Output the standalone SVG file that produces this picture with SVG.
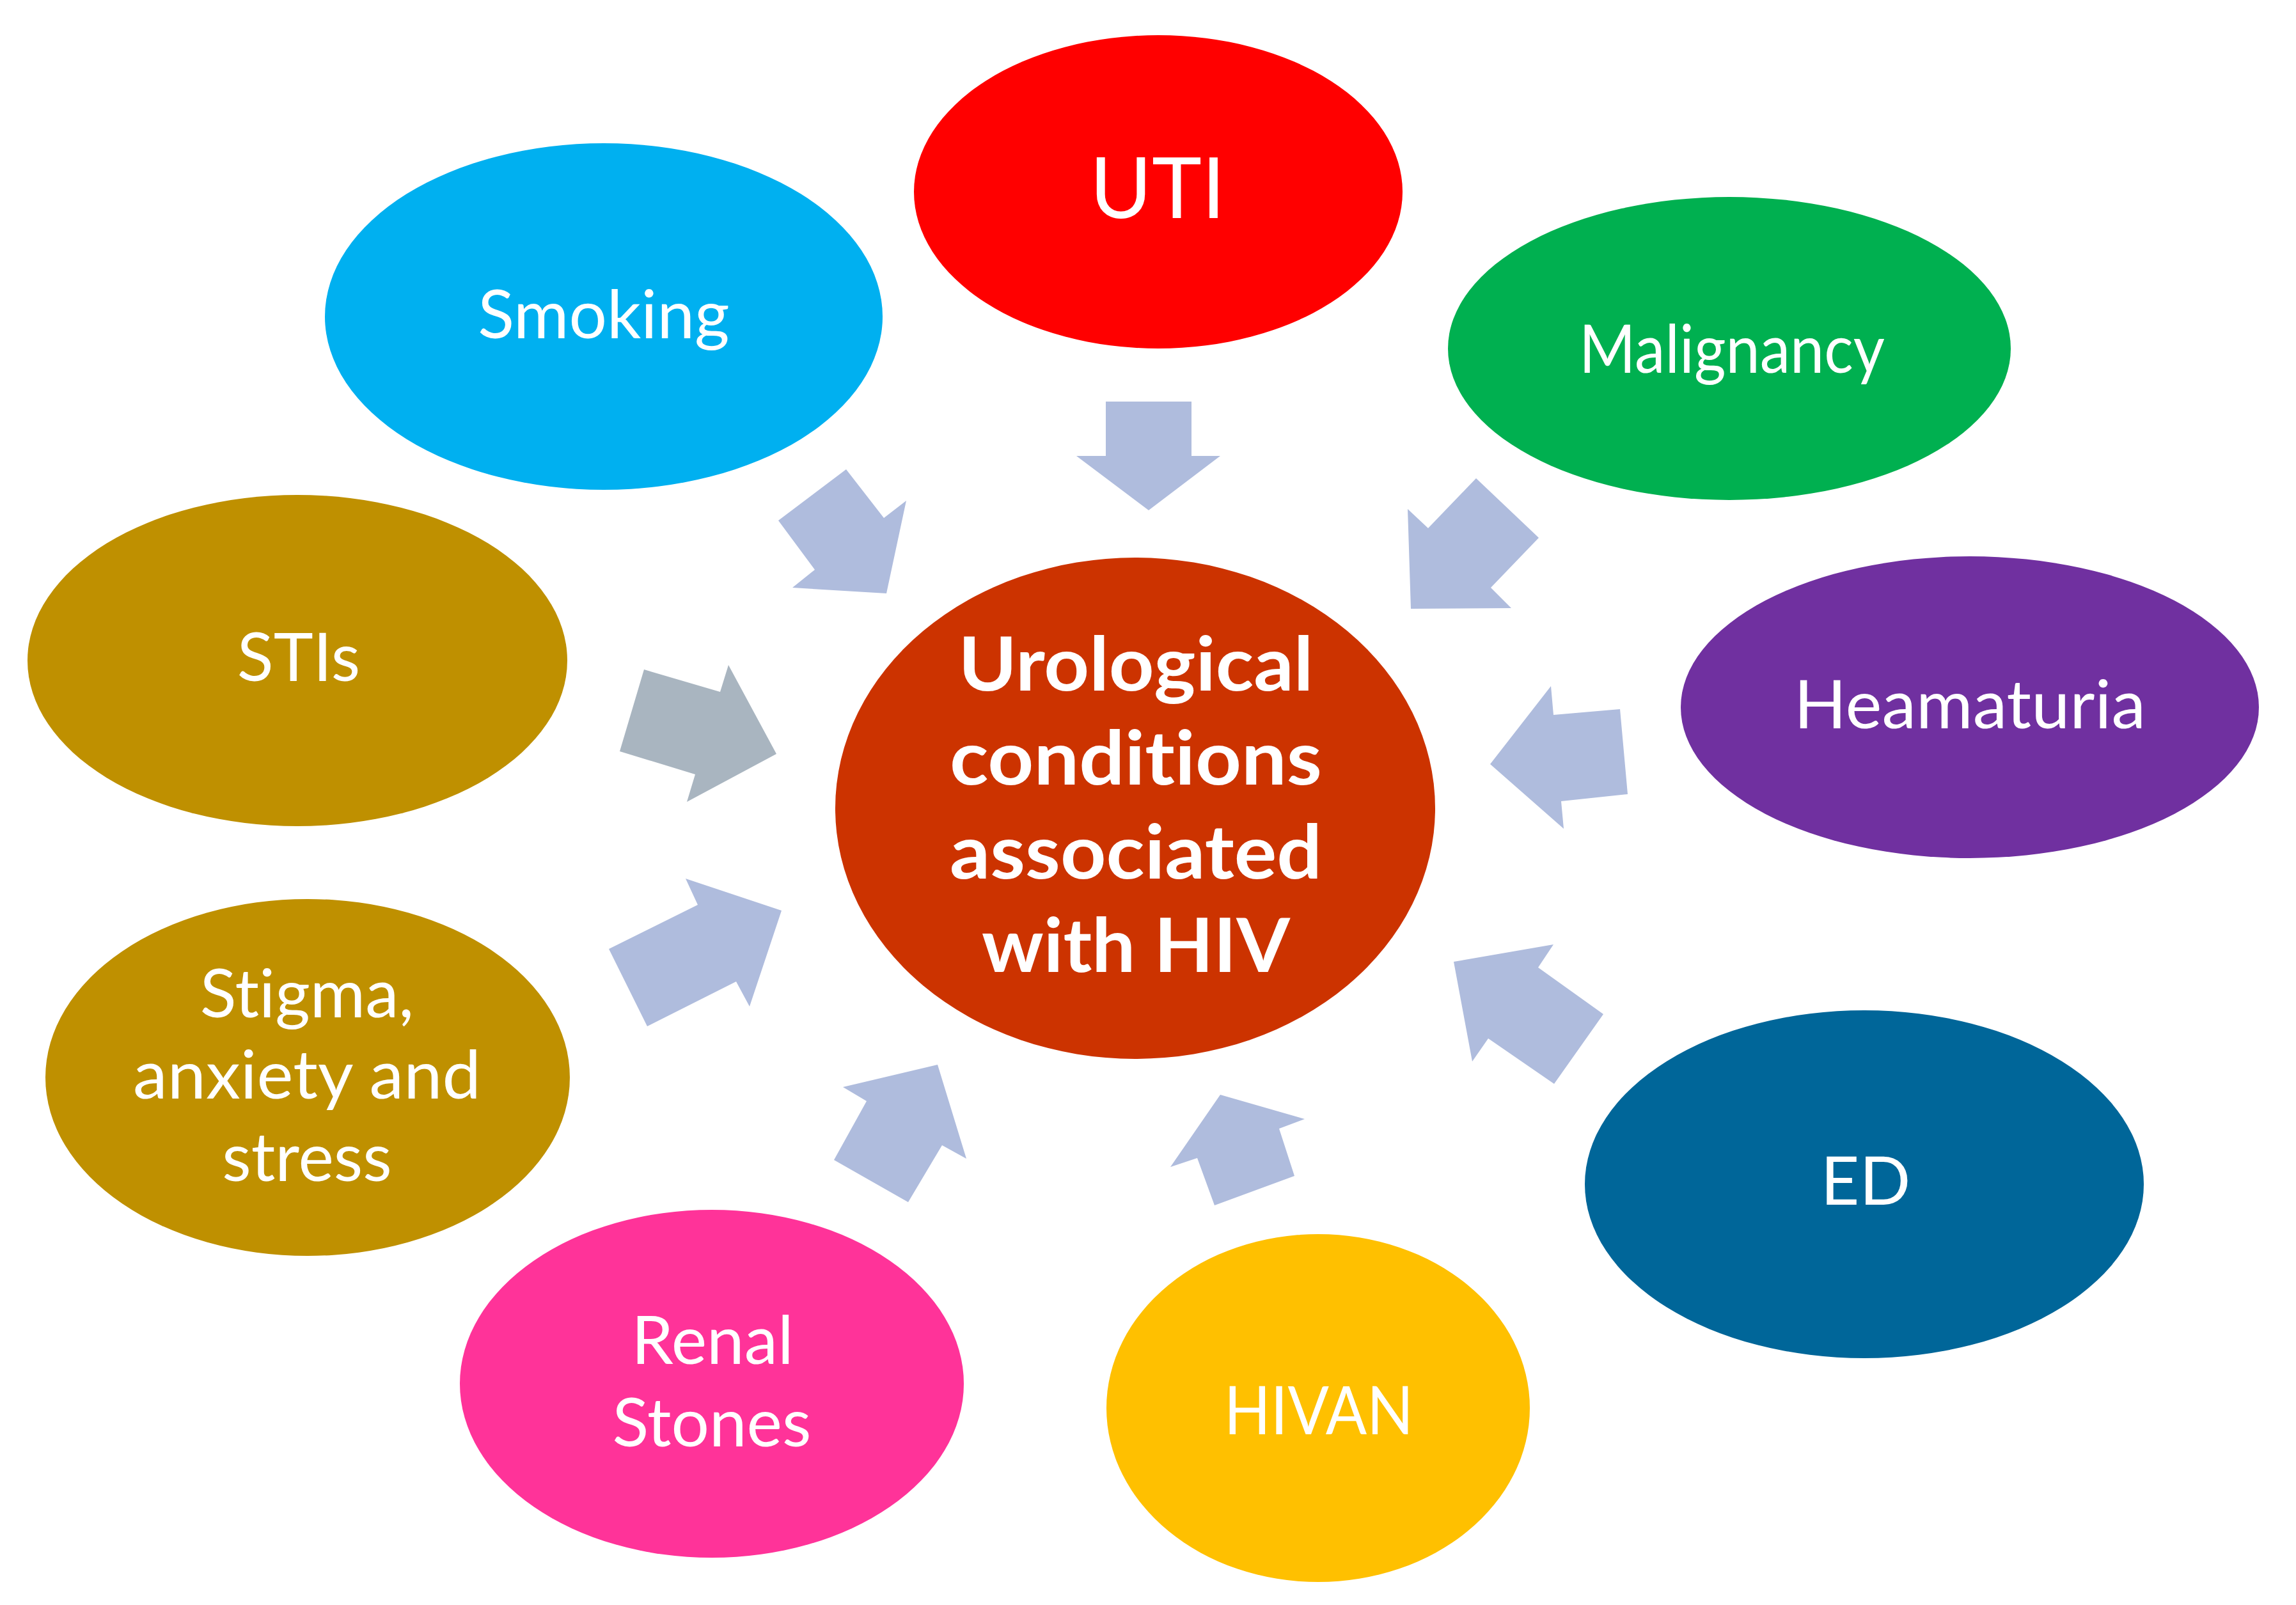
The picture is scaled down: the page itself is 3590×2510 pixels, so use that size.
<svg xmlns="http://www.w3.org/2000/svg" width="3590" height="2510" viewBox="0 0 3590 2510">
<style>
text{font-variant-ligatures:none;font-feature-settings:"liga" 0,"clig" 0}
.lbl{font-family:Lato,"Open Sans","Liberation Sans",sans-serif;font-size:105px;fill:#fff;text-anchor:middle}
.ctr{font-family:Lato,"Open Sans","Liberation Sans",sans-serif;font-size:117px;font-weight:bold;fill:#fff;text-anchor:middle}
.arr{fill:#AFBCDD}
.arr2{fill:#A9B5C0}
</style>
<rect width="3590" height="2510" fill="#fff"/>
<g id="connectors">
<polygon class="arr" points="1729,628 1863,628 1863,713 1908,713 1796,798 1683,713 1729,713"/>
<polygon class="arr" points="1323,734 1382,810 1417,783 1386,928 1239,919 1274,891 1217,814"/>
<polygon class="arr" points="2308,748 2406,841 2331,919 2363,951 2206,952 2201,796 2233,826"/>
<polygon class="arr2" points="1007,1047 1126,1082 1139,1040 1214,1179 1074,1254 1087,1211 969,1175"/>
<polygon class="arr" points="2330,1195 2425,1073 2429,1118 2533,1109 2545,1242 2441,1253 2445,1296"/>
<polygon class="arr" points="1222,1424 1072,1374 1091,1415 952,1484 1012,1605 1151,1535 1172,1574"/>
<polygon class="arr" points="2273,1504 2429,1477 2405,1513 2507,1586 2430,1695 2327,1624 2302,1660"/>
<polygon class="arr" points="1466,1665 1511,1812 1473,1791 1420,1880 1304,1814 1355,1722 1318,1700"/>
<polygon class="arr" points="1908,1712 2040,1750 2000,1765 2024,1839 1899,1885 1872,1811 1830,1825"/>
</g>
<g id="uti"><ellipse cx="1811" cy="300" rx="382" ry="245" fill="#FF0000"/><text class="lbl" x="1810" y="341" style="font-size:132px">UTI</text></g>
<g id="smoking"><ellipse cx="944" cy="495" rx="436" ry="271" fill="#00B0F0"/><text class="lbl" x="944" y="529">Smoking</text></g>
<g id="malignancy"><ellipse cx="2704" cy="545" rx="440" ry="237" fill="#00B050"/><text class="lbl" x="2708" y="583" textLength="478" lengthAdjust="spacingAndGlyphs">Malignancy</text></g>
<g id="stis"><ellipse cx="465" cy="1033" rx="422" ry="259" fill="#BF9000"/><text class="lbl" x="467" y="1065">STIs</text></g>
<g id="heamaturia"><ellipse cx="3080" cy="1106" rx="452" ry="236" fill="#7030A0"/><text class="lbl" x="3080" y="1139" textLength="550" lengthAdjust="spacingAndGlyphs">Heamaturia</text></g>
<g id="stigma"><ellipse cx="481" cy="1685" rx="410" ry="279" fill="#BF9000"/><text class="lbl" x="480" y="1591">Stigma,</text><text class="lbl" x="480" y="1718" textLength="544" lengthAdjust="spacingAndGlyphs">anxiety and</text><text class="lbl" x="480" y="1847">stress</text></g>
<g id="ed"><ellipse cx="2915" cy="1852" rx="437" ry="272" fill="#006699"/><text class="lbl" x="2917" y="1884">ED</text></g>
<g id="renal"><ellipse cx="1113" cy="2164" rx="394" ry="272" fill="#FF3399"/><text class="lbl" x="1114" y="2133">Renal</text><text class="lbl" x="1113" y="2262">Stones</text></g>
<g id="hivan"><ellipse cx="2061" cy="2202" rx="331" ry="272" fill="#FFC000"/><text class="lbl" x="2062" y="2243" textLength="296" lengthAdjust="spacingAndGlyphs">HIVAN</text></g>
<g id="center"><ellipse cx="1775" cy="1264" rx="469" ry="392" fill="#CC3300"/><text class="ctr" x="1776" y="1080" textLength="555" lengthAdjust="spacingAndGlyphs">Urological</text><text class="ctr" x="1776" y="1227" textLength="582" lengthAdjust="spacingAndGlyphs">conditions</text><text class="ctr" x="1776" y="1374" textLength="582" lengthAdjust="spacingAndGlyphs">associated</text><text class="ctr" x="1776" y="1520" textLength="482" lengthAdjust="spacingAndGlyphs">with HIV</text></g>
</svg>
